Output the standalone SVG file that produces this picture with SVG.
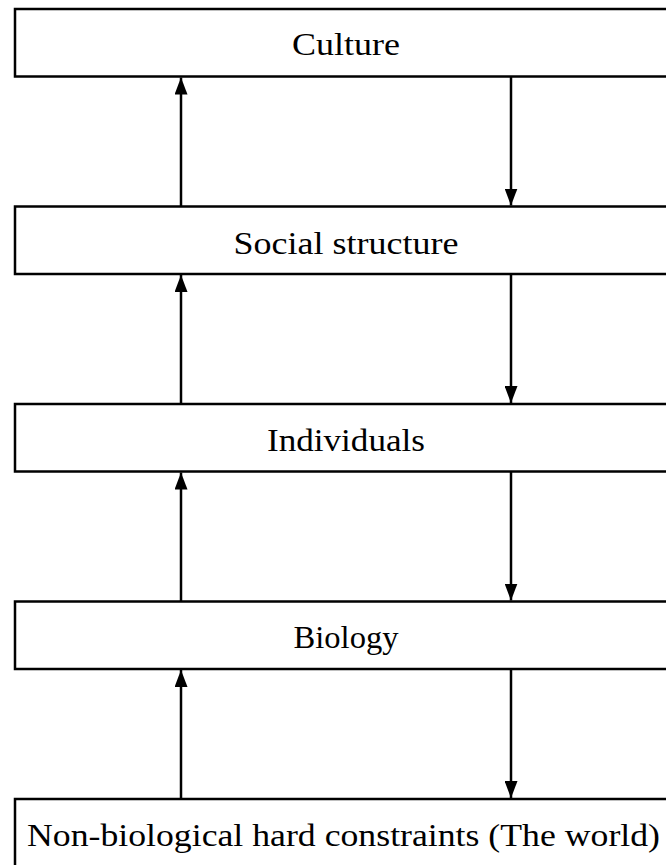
<svg xmlns="http://www.w3.org/2000/svg" width="666" height="865" viewBox="0 0 666 865">
<style>
.box{fill:#fff;stroke:#000;stroke-width:2.5}
.lbl{font-family:"Liberation Serif","DejaVu Serif",serif;font-size:31px;fill:#000;text-anchor:middle}
.ln{stroke:#000;stroke-width:2.5;fill:none}
</style>
<defs>
<marker id="ah" markerWidth="17" markerHeight="13" refX="17" refY="6.5" orient="auto" markerUnits="userSpaceOnUse" viewBox="0 0 17 13">
<path d="M0,0 L17,6.5 L0,13 z" fill="#000"/>
</marker>
</defs>
<g id="culture"><rect class="box" x="15" y="9" width="662" height="67.5"/><text class="lbl" x="346" y="55" textLength="108" lengthAdjust="spacingAndGlyphs">Culture</text></g>
<g id="social"><rect class="box" x="15" y="206.5" width="662" height="67.5"/><text class="lbl" x="346" y="254" textLength="225" lengthAdjust="spacingAndGlyphs">Social structure</text></g>
<g id="individuals"><rect class="box" x="15" y="404" width="662" height="67.5"/><text class="lbl" x="346" y="451" textLength="158" lengthAdjust="spacingAndGlyphs">Individuals</text></g>
<g id="biology"><rect class="box" x="15" y="601.5" width="662" height="67.5"/><text class="lbl" x="346" y="648" textLength="105" lengthAdjust="spacingAndGlyphs">Biology</text></g>
<g id="world"><rect class="box" x="15" y="799" width="662" height="67.5"/><text class="lbl" x="343.5" y="845.5" textLength="633" lengthAdjust="spacingAndGlyphs">Non-biological hard constraints (The world)</text></g>
<g id="connectors">
<line class="ln" x1="181" y1="206.5" x2="181" y2="77.5" marker-end="url(#ah)"/>
<line class="ln" x1="511" y1="76.5" x2="511" y2="205.5" marker-end="url(#ah)"/>
<line class="ln" x1="181" y1="404" x2="181" y2="275" marker-end="url(#ah)"/>
<line class="ln" x1="511" y1="274" x2="511" y2="403" marker-end="url(#ah)"/>
<line class="ln" x1="181" y1="601.5" x2="181" y2="472.5" marker-end="url(#ah)"/>
<line class="ln" x1="511" y1="471.5" x2="511" y2="600.5" marker-end="url(#ah)"/>
<line class="ln" x1="181" y1="799" x2="181" y2="670" marker-end="url(#ah)"/>
<line class="ln" x1="511" y1="669" x2="511" y2="798" marker-end="url(#ah)"/>
</g>
</svg>
